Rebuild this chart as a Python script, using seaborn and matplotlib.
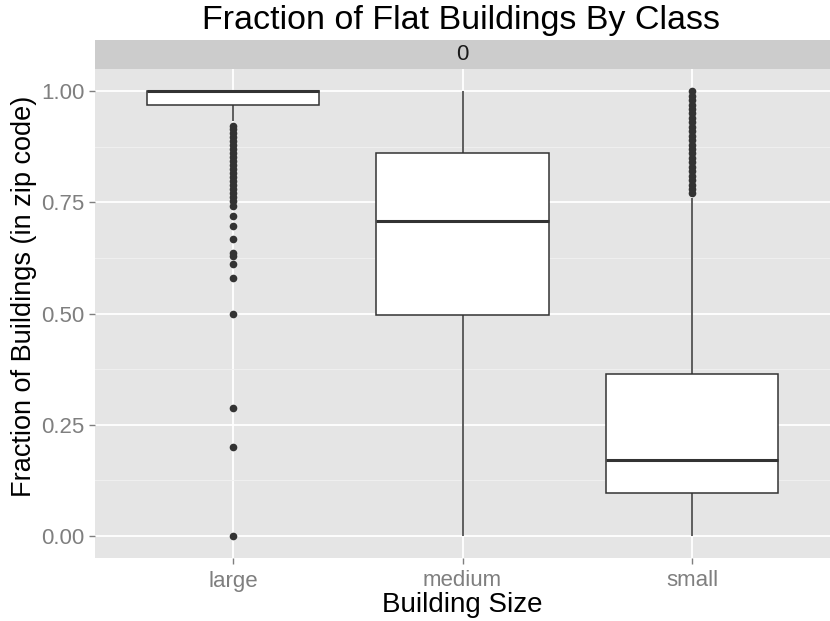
import numpy as np
import pandas as pd
import seaborn as sns
import matplotlib.pyplot as plt

# building size classes
sizes = ["large", "medium", "small"]

# values, with how many times each occurs
large_values = [0.0, 0.200, 0.287, 0.500, 0.579, 0.612, 0.630, 0.635, 0.668, 0.697,
                0.720, 0.742, 0.753, 0.762, 0.771, 0.780, 0.789, 0.798, 0.807, 0.816,
                0.825, 0.834, 0.843, 0.852, 0.861, 0.870, 0.879, 0.888, 0.897, 0.906,
                0.915, 0.922, 0.933, 0.970, 1.000]
large_counts = [1] * 33 + [2, 98]

medium_values = [0.0, 0.497, 0.708, 0.862, 1.0]
medium_counts = [1, 1, 1, 1, 1]

small_values = [0.0, 0.096, 0.170, 0.363, 0.760,
                0.77, 0.78, 0.79, 0.80, 0.81, 0.82, 0.83, 0.84, 0.85, 0.86, 0.87, 0.88,
                0.89, 0.90, 0.91, 0.92, 0.93, 0.94, 0.95, 0.96, 0.97, 0.98, 0.99, 1.00]
small_counts = [1, 25, 25, 25, 1] + [1] * 24

y_ticks = [0.0, 0.25, 0.5, 0.75, 1.0]
y_tick_labels = ["0.00", "0.25", "0.50", "0.75", "1.00"]

frames = []
for name, vals, cnts in [("large", large_values, large_counts),
                         ("medium", medium_values, medium_counts),
                         ("small", small_values, small_counts)]:
    frames.append(pd.DataFrame({"size": name, "frac": np.repeat(vals, cnts)}))
df = pd.concat(frames, ignore_index=True)

plt.rcParams["font.family"] = ["Liberation Sans", "DejaVu Sans"]

fig = plt.figure(figsize=(8.3, 6.21), dpi=100)
left, right = 95 / 830, 830 / 830
bottom, top = 1 - 558 / 621, 1 - 69 / 621
ax = fig.add_axes([left, bottom, right - left, top - bottom])
ax.set_facecolor("#E5E5E5")

dark = "#333333"
sns.boxplot(data=df, x="size", y="frac", order=sizes, ax=ax,
            color="white", saturation=1, width=0.75, linecolor=dark, linewidth=1.1,
            showcaps=False, whis=1.5,
            medianprops={"linewidth": 2.2, "color": dark},
            flierprops={"marker": "o", "markersize": 5.5, "markerfacecolor": dark,
                        "markeredgecolor": dark, "markeredgewidth": 0})

ax.set_xlim(-0.6, 2.6)
ax.set_ylim(-0.05, 1.05)
ax.set_yticks(y_ticks)
ax.set_yticklabels(y_tick_labels)
ax.set_yticks([0.125, 0.375, 0.625, 0.875], minor=True)

ax.grid(True, which="major", color="white", linewidth=1.3)
ax.grid(True, which="minor", axis="y", color="#F2F2F2", linewidth=0.6)
ax.set_axisbelow(True)
for s in ax.spines.values():
    s.set_visible(False)

ax.tick_params(axis="both", which="major", colors="#7F7F7F", labelsize=16,
               length=4, width=1)
ax.tick_params(axis="both", which="minor", length=0)
ax.tick_params(axis="x", pad=5)

ax.set_xlabel("Building Size", fontsize=20, labelpad=0)
ax.set_ylabel("Fraction of Buildings (in zip code)", fontsize=19.5, labelpad=4)
# centre the y title on panel + strip, like ggplot does
ax.yaxis.set_label_coords(-0.079, 0.534)

# facet strip
strip = fig.add_axes([left, top, right - left, 29 / 621])
strip.set_facecolor("#CCCCCC")
strip.set_xticks([])
strip.set_yticks([])
for s in strip.spines.values():
    s.set_visible(False)
strip.text(0.5, 0.5, "0", ha="center", va="center", fontsize=16, color="#1A1A1A")

fig.text(0.556, 1 - 20 / 621, "Fraction of Flat Buildings By Class",
         ha="center", va="center", fontsize=24.5)

fig.savefig("out.png", dpi=100)
